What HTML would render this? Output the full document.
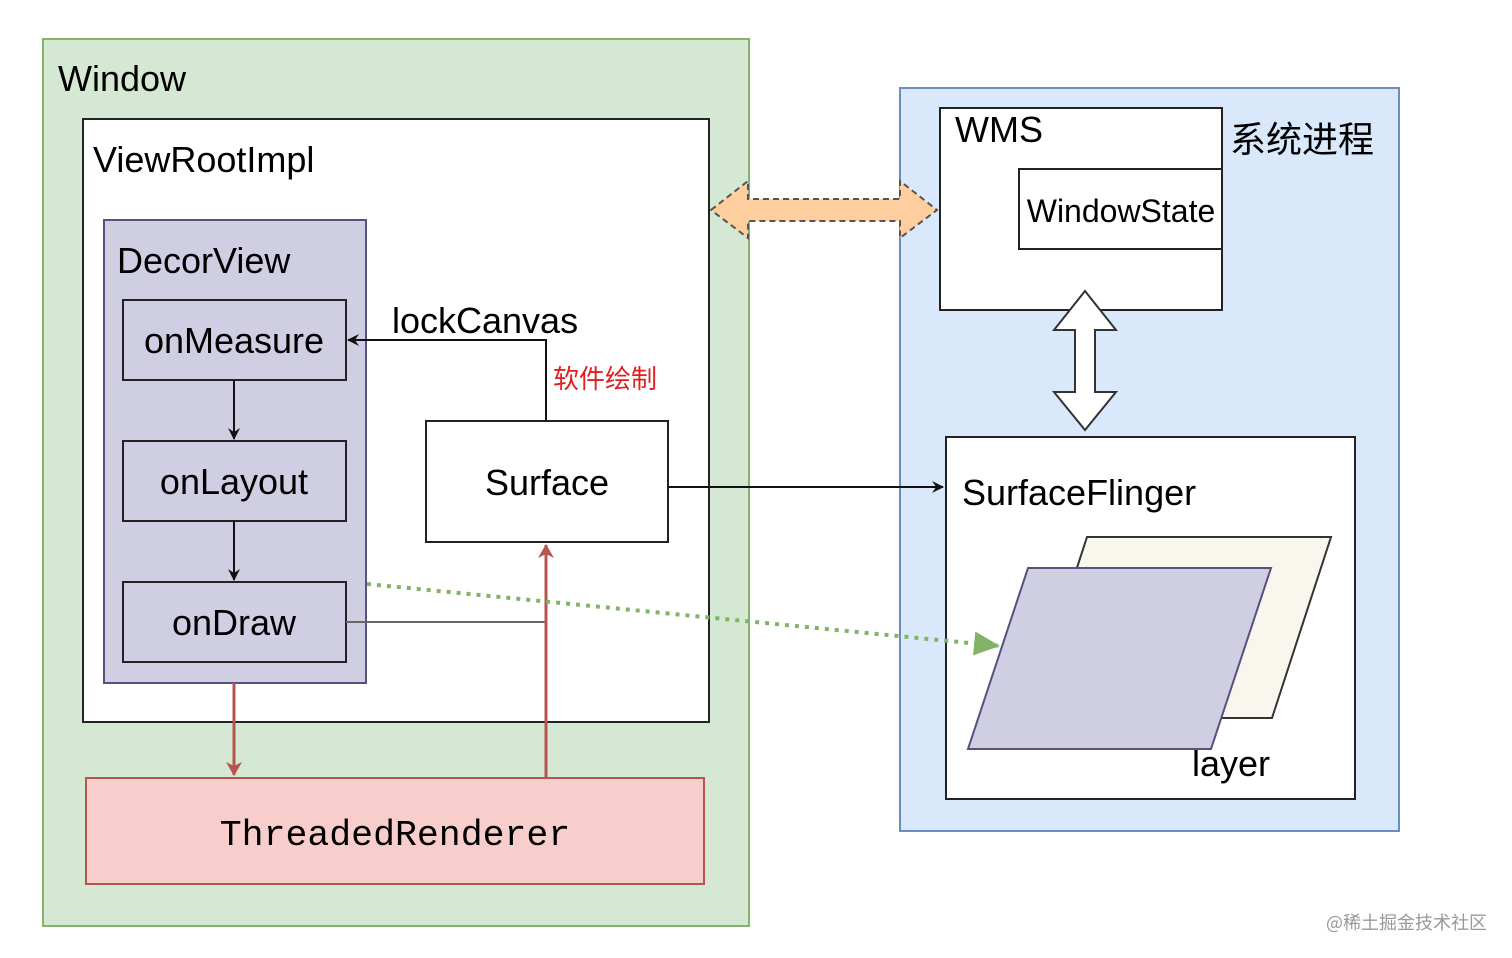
<!DOCTYPE html>
<html><head><meta charset="utf-8"><style>
body{margin:0;background:#fff;}
svg{display:block;font-family:"Liberation Sans","Noto Sans CJK SC",sans-serif;}
</style></head><body>
<svg width="1512" height="958" viewBox="0 0 1512 958" xmlns="http://www.w3.org/2000/svg">
<defs>
<marker id="ab" markerWidth="14" markerHeight="14" refX="11" refY="7" orient="auto" markerUnits="userSpaceOnUse"><path d="M0,1 L12,7 L0,13 L4,7 z" fill="#111"/></marker>
<marker id="ar" markerWidth="16" markerHeight="16" refX="13" refY="8" orient="auto" markerUnits="userSpaceOnUse"><path d="M0,0 L14,8 L0,16 L4,8 z" fill="#b85450"/></marker>
<marker id="ag" markerWidth="28" markerHeight="28" refX="26" refY="14" orient="auto" markerUnits="userSpaceOnUse"><path d="M0,2 L26,14 L0,26 z" fill="#82b366"/></marker>
</defs>
<rect x="43" y="39" width="706" height="887" fill="#d5e8d4" stroke="#82b366" stroke-width="2"/>
<text x="58" y="91" font-size="36">Window</text>
<rect x="83" y="119" width="626" height="603" fill="#fff" stroke="#222" stroke-width="2"/>
<text x="93" y="172" font-size="36">ViewRootImpl</text>
<rect x="104" y="220" width="262" height="463" fill="#d0cee2" stroke="#56517e" stroke-width="2"/>
<text x="117" y="273" font-size="36">DecorView</text>
<rect x="123" y="300" width="223" height="80" fill="#d0cee2" stroke="#222" stroke-width="2"/>
<text x="234" y="353" font-size="36" text-anchor="middle">onMeasure</text>
<rect x="123" y="441" width="223" height="80" fill="#d0cee2" stroke="#222" stroke-width="2"/>
<text x="234" y="494" font-size="36" text-anchor="middle">onLayout</text>
<rect x="123" y="582" width="223" height="80" fill="#d0cee2" stroke="#222" stroke-width="2"/>
<text x="234" y="635" font-size="36" text-anchor="middle">onDraw</text>
<line x1="234" y1="380" x2="234" y2="439" stroke="#111" stroke-width="2" marker-end="url(#ab)"/>
<line x1="234" y1="521" x2="234" y2="580" stroke="#111" stroke-width="2" marker-end="url(#ab)"/>
<rect x="426" y="421" width="242" height="121" fill="#fff" stroke="#222" stroke-width="2"/>
<text x="547" y="495" font-size="36" text-anchor="middle">Surface</text>
<polyline points="546,421 546,340 348,340" fill="none" stroke="#111" stroke-width="2" marker-end="url(#ab)"/>
<text x="392" y="333" font-size="36">lockCanvas</text>
<text x="553" y="388" font-size="26" fill="#e02020">软件绘制</text>
<polyline points="346,622 546,622 546,560" fill="none" stroke="#666" stroke-width="2"/>
<rect x="86" y="778" width="618" height="106" fill="#f8cecc" stroke="#b85450" stroke-width="2"/>
<text x="395" y="845" font-size="36.5" text-anchor="middle" font-family="Liberation Mono,monospace">ThreadedRenderer</text>
<line x1="234" y1="683" x2="234" y2="775" stroke="#b85450" stroke-width="3" marker-end="url(#ar)"/>
<line x1="546" y1="777" x2="546" y2="545" stroke="#b85450" stroke-width="3" marker-end="url(#ar)"/>
<rect x="900" y="88" width="499" height="743" fill="#dae8fc" stroke="#6c8ebf" stroke-width="2"/>
<text x="1230" y="152" font-size="36" font-family="Noto Sans CJK SC,sans-serif">系统进程</text>
<rect x="940" y="108" width="282" height="202" fill="#fff" stroke="#222" stroke-width="2"/>
<text x="955" y="142" font-size="36">WMS</text>
<rect x="1019" y="169" width="203" height="80" fill="#fff" stroke="#222" stroke-width="2"/>
<text x="1121" y="222" font-size="32" text-anchor="middle">WindowState</text>
<polygon points="711,210 748,181 748,199 900,199 900,181 937,210 900,238 900,221 748,221 748,238" fill="#ffce9f" stroke="#555" stroke-width="2" stroke-dasharray="6,4"/>
<polygon points="1085,291 1116,330 1095,330 1095,392 1116,392 1085,430 1054,392 1075,392 1075,330 1054,330" fill="#fff" stroke="#333" stroke-width="2"/>
<rect x="946" y="437" width="409" height="362" fill="#fff" stroke="#222" stroke-width="2"/>
<text x="962" y="505" font-size="36">SurfaceFlinger</text>
<polygon points="1087,537 1331,537 1272,718 1028,718" fill="#f9f7ed" stroke="#333" stroke-width="2"/>
<polygon points="1028,568 1271,568 1211,749 968,749" fill="#d0cee2" stroke="#56517e" stroke-width="2"/>
<text x="1192" y="776" font-size="36">layer</text>
<line x1="668" y1="487" x2="943" y2="487" stroke="#111" stroke-width="2" marker-end="url(#ab)"/>
<line x1="367" y1="584" x2="1000" y2="646" stroke="#82b366" stroke-width="4" stroke-dasharray="4,6" marker-end="url(#ag)"/>
<text x="1487" y="929" font-size="18" fill="#999" text-anchor="end" font-family="Noto Sans CJK SC,sans-serif">@稀土掘金技术社区</text>
</svg>
</body></html>
